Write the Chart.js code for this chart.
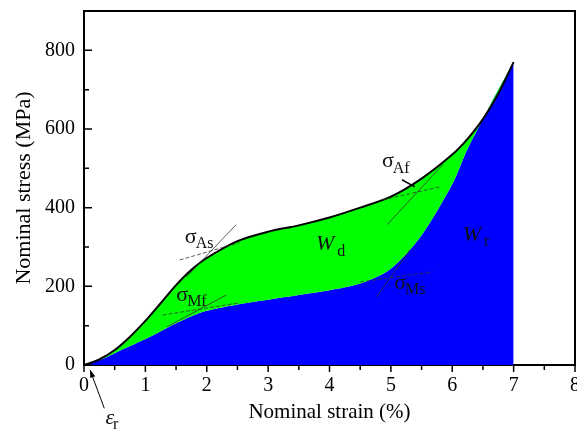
<!DOCTYPE html>
<html>
<head>
<meta charset="utf-8">
<script src="https://cdn.jsdelivr.net/npm/chart.js@4.4.0/dist/chart.umd.min.js"></script>
<style>
    html, body { margin: 0; padding: 0; background: #fff; }
</style>
</head>
<body>
<canvas id="stress-chart" width="577" height="433"></canvas>
<script>
// strain grid (%) shared by both curves
const strain = [0, 0.25, 0.5, 0.75, 1, 1.25, 1.5, 1.75, 2, 2.5, 3, 3.5, 4, 4.5, 5, 5.5, 6, 6.25, 6.5, 6.75, 7];
// loading curve (MPa)
const loadingStress = [0, 14, 38, 72, 112, 157, 203, 242, 272, 315, 339, 355, 375, 400, 428, 474, 535, 575, 625, 690, 770];
// unloading curve (MPa)
const unloadingStress = [0, 12, 30, 48, 66, 86, 106, 124, 138, 154, 166, 178, 190, 207, 245, 330, 460, 550, 625, 700, 770];

// tangent construction lines, [x1, y1, x2, y2]
const tangentAs = [[1.67, 224, 2.48, 357], [1.56, 267, 2.53, 311]];
const tangentMf = [[1.35, 97, 2.32, 178], [1.28, 127, 2.53, 158]];
const tangentAf = [[4.94, 357, 5.85, 510], [4.87, 420, 5.8, 453]];
const tangentMs = [[4.77, 173, 5.31, 293], [4.5, 211, 5.68, 237]];
// short pointer from the sigma_Af label to the curve
const pointerAf = [5.18, 471, 5.39, 453];

const xTicks = [0, 1, 2, 3, 4, 5, 6, 7, 8];
const yTicks = [0, 200, 400, 600, 800];

function toPoints(xs, ys) {
    return xs.map((v, i) => ({x: v, y: ys[i]}));
}

function tangentSets(lines) {
    return lines.map((l, i) => ({
        data: [{x: l[0], y: l[1]}, {x: l[2], y: l[3]}],
        borderColor: '#333',
        borderWidth: 0.8,
        borderDash: i === 0 ? [] : [4, 2],
        pointRadius: 0,
        fill: false,
        order: 0
    }));
}

// labels: [symbol, subscript, x, y] in data units
const labels = [
    ['σ', 'As', 1.74, 326],
    ['σ', 'Mf', 1.60, 178],
    ['σ', 'Af', 4.95, 517],
    ['σ', 'Ms', 5.15, 209],
    ['W', 'd', 3.93, 306],
    ['W', 'r', 6.32, 331],
    ['ε', 'r', 0.42, -135]
];

const annotate = {
    id: 'annotate',
    afterDraw(chart) {
        const {ctx, chartArea, scales: {x, y}} = chart;
        ctx.save();

        // frame on top/right
        ctx.strokeStyle = '#000';
        ctx.lineWidth = 2;
        ctx.beginPath();
        ctx.moveTo(chartArea.left, chartArea.top);
        ctx.lineTo(chartArea.right, chartArea.top);
        ctx.lineTo(chartArea.right, chartArea.bottom);
        ctx.stroke();

        // x ticks point down, y ticks point in
        ctx.lineWidth = 1.5;
        ctx.beginPath();
        for (let v = 0; v <= 8; v += 0.5) {
            const px = x.getPixelForValue(v);
            const len = v % 1 === 0 ? 7 : 5;
            ctx.moveTo(px, chartArea.bottom);
            ctx.lineTo(px, chartArea.bottom + len);
        }
        for (let v = 0; v <= 900; v += 100) {
            const py = y.getPixelForValue(v);
            const len = v % 200 === 0 ? 8 : 5;
            ctx.moveTo(chartArea.left, py);
            ctx.lineTo(chartArea.left + len, py);
        }
        ctx.stroke();

        // labels
        ctx.fillStyle = '#111';
        ctx.textBaseline = 'middle';
        for (const [sym, sub, lx, ly] of labels) {
            const px = x.getPixelForValue(lx);
            const py = y.getPixelForValue(ly);
            ctx.font = (sym === 'σ' ? '' : 'italic ') + '22px "Liberation Serif", serif';
            ctx.textAlign = 'center';
            ctx.fillText(sym, px, py);
            const w = ctx.measureText(sym).width;
            ctx.font = '16px "Liberation Serif", serif';
            ctx.textAlign = 'left';
            ctx.fillText(sub, px + w / 2 + (sym === 'W' ? 3 : -1), py + 7);
        }

        // arrow to residual strain
        const ax1 = x.getPixelForValue(0.33), ay1 = y.getPixelForValue(-110);
        const ax2 = x.getPixelForValue(0.1), ay2 = y.getPixelForValue(-13);
        ctx.strokeStyle = '#000';
        ctx.lineWidth = 1;
        ctx.beginPath();
        ctx.moveTo(ax1, ay1);
        ctx.lineTo(ax2, ay2);
        ctx.stroke();
        const ang = Math.atan2(ay2 - ay1, ax2 - ax1);
        ctx.beginPath();
        ctx.moveTo(ax2, ay2);
        ctx.lineTo(ax2 - 8 * Math.cos(ang - 0.35), ay2 - 8 * Math.sin(ang - 0.35));
        ctx.lineTo(ax2 - 8 * Math.cos(ang + 0.35), ay2 - 8 * Math.sin(ang + 0.35));
        ctx.closePath();
        ctx.fillStyle = '#000';
        ctx.fill();

        ctx.restore();
    }
};

const serif = '"Liberation Serif", "Times New Roman", serif';

new Chart(document.getElementById('stress-chart'), {
    type: 'line',
    data: {
        datasets: [
            {
                label: 'Loading',
                data: toPoints(strain, loadingStress),
                borderColor: '#000',
                borderWidth: 2,
                backgroundColor: '#00ff00',
                fill: '+1',
                pointRadius: 0,
                tension: 0.3,
                order: 1
            },
            {
                label: 'Unloading',
                data: toPoints(strain, unloadingStress),
                borderColor: 'rgba(0,0,0,0)',
                borderWidth: 0,
                backgroundColor: '#0000ff',
                fill: 'origin',
                pointRadius: 0,
                tension: 0.3,
                order: 2
            },
            ...tangentSets(tangentAs),
            ...tangentSets(tangentMf),
            ...tangentSets(tangentAf),
            ...tangentSets(tangentMs),
            {
                data: [{x: pointerAf[0], y: pointerAf[1]}, {x: pointerAf[2], y: pointerAf[3]}],
                borderColor: '#000',
                borderWidth: 1.5,
                pointRadius: 0,
                fill: false,
                order: 0
            }
        ]
    },
    options: {
        responsive: false,
        animation: false,
        layout: {padding: {top: 11, right: 2, left: 0, bottom: 0}},
        plugins: {
            legend: {display: false},
            tooltip: {enabled: false}
        },
        scales: {
            x: {
                type: 'linear',
                min: 0,
                max: 8,
                afterFit: (scale) => {
                    scale.height = 68;
                    scale.paddingLeft = 0;
                    scale.paddingRight = 0;
                },
                afterBuildTicks: (scale) => { scale.ticks = xTicks.map(v => ({value: v})); },
                grid: {display: false, drawTicks: false},
                border: {display: true, color: '#000', width: 2},
                ticks: {color: '#000', font: {family: serif, size: 20}, padding: 9},
                title: {
                    display: true,
                    text: 'Nominal strain (%)',
                    color: '#000',
                    font: {family: serif, size: 21},
                    padding: {top: 0, bottom: 8}
                }
            },
            y: {
                min: 0,
                max: 900,
                afterFit: (scale) => {
                    scale.width = 84;
                    scale.paddingTop = 0;
                    scale.paddingBottom = 0;
                },
                afterBuildTicks: (scale) => { scale.ticks = yTicks.map(v => ({value: v})); },
                grid: {display: false, drawTicks: false},
                border: {display: true, color: '#000', width: 2},
                ticks: {color: '#000', font: {family: serif, size: 20}, padding: 9},
                title: {
                    display: true,
                    text: 'Nominal stress (MPa)',
                    color: '#000',
                    font: {family: serif, size: 22},
                    padding: {top: 11, bottom: 0}
                }
            }
        }
    },
    plugins: [annotate]
});
</script>
</body>
</html>
